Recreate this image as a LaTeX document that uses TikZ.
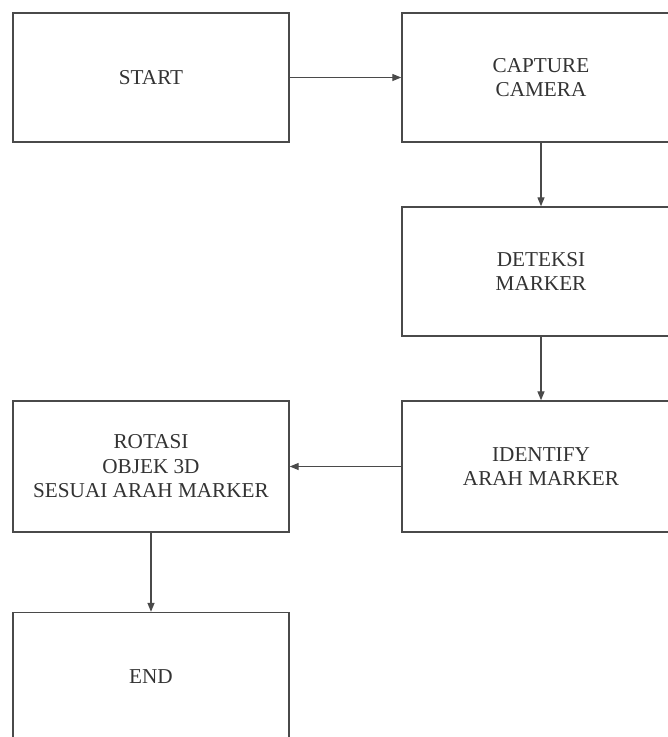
\documentclass[tikz,border=0pt]{standalone}
\usepackage{fontspec}
\setmainfont{Liberation Serif}
\usetikzlibrary{arrows.meta}
\definecolor{inkline}{HTML}{4A4A4A}
\definecolor{inktext}{HTML}{333333}
\begin{document}
\begin{tikzpicture}[x=1pt,y=-1pt,
  procbox/.style={draw=inkline, line width=1.4pt, fill=white,
    minimum width=276pt, minimum height=129pt, inner sep=0pt,
    align=center, text=inktext,
    font=\fontsize{21.2}{24.5}\selectfont},
  flow/.style={draw=inkline, line width=1.3pt,
    -{Triangle[length=9pt,width=7pt]}}]
  \useasboundingbox (0,0) rectangle (668,737);
  \clip (0,0) rectangle (668,737);
  \fill[white] (0,0) rectangle (668,737);

  % process boxes
  \node[procbox] (start)    at (151,77.5)  {START};
  \node[procbox, minimum width=278pt] (capture)  at (541,77.5)  {CAPTURE\\CAMERA};
  \node[procbox, minimum width=278pt] (deteksi)  at (541,271.5) {DETEKSI\\MARKER};
  \node[procbox, minimum width=278pt, minimum height=131pt] (identify) at (541,466.5) {IDENTIFY\\ARAH MARKER};
  \node[procbox, minimum height=131pt] (rotasi)   at (151,466.5) {ROTASI\\OBJEK 3D\\SESUAI ARAH MARKER};
  \node[procbox] (finish)   at (151,677)   {END};

  % connectors
  \draw[flow] (start.east) -- (capture.west);
  \draw[flow] (capture.south) -- (deteksi.north);
  \draw[flow] (deteksi.south) -- (identify.north);
  \draw[flow] (identify.west) -- (rotasi.east);
  \draw[flow] (rotasi.south) -- (finish.north);
\end{tikzpicture}
\end{document}
